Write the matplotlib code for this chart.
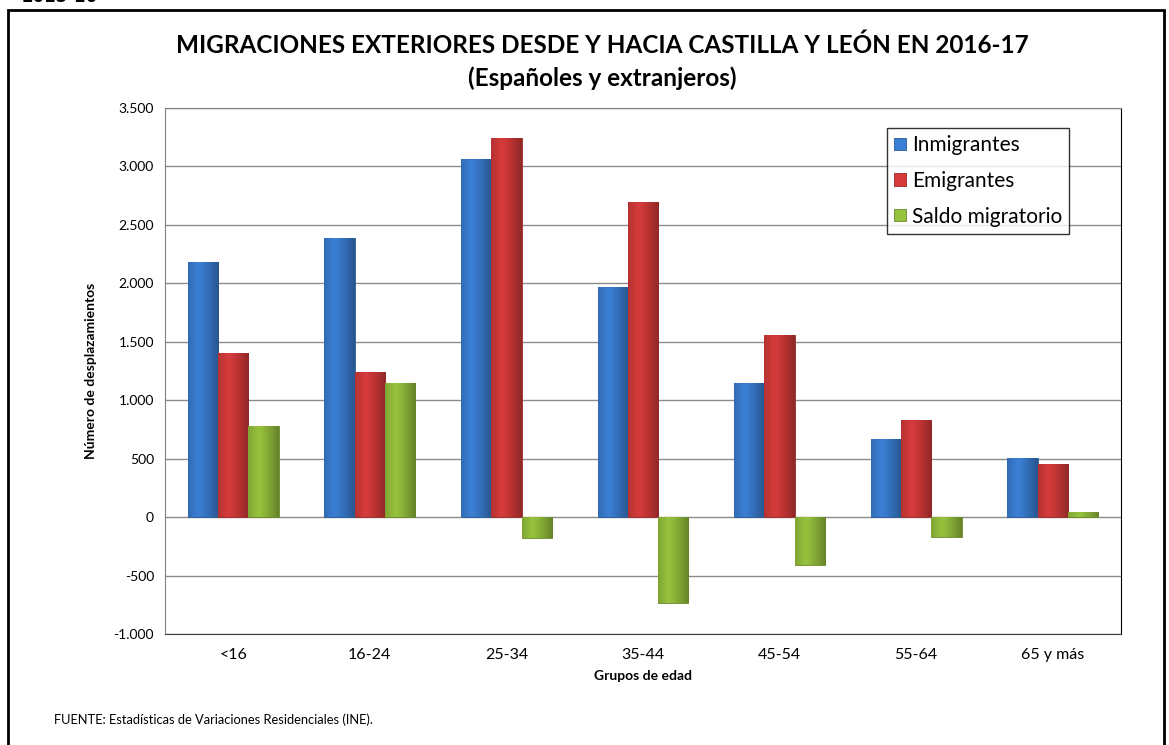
import matplotlib
matplotlib.use("Agg")
import matplotlib.pyplot as plt
import matplotlib.colors as mcolors
from matplotlib.patches import Rectangle
from matplotlib.ticker import FuncFormatter
import numpy as np

# data
grupos = ["<16", "16-24", "25-34", "35-44", "45-54", "55-64", "65 y más"]
inmigrantes = [2180, 2390, 3065, 1965, 1145, 668, 506]
emigrantes = [1400, 1243, 3240, 2700, 1557, 834, 458]
saldo = [780, 1147, -175, -735, -412, -166, 48]

series = ["Inmigrantes", "Emigrantes", "Saldo migratorio"]
colores = ["#3b7fd4", "#d63b3b", "#97c23d"]

plt.rcParams['font.family'] = ['Lato', 'DejaVu Sans']

fig = plt.figure(figsize=(11.69, 7.45), dpi=100)
ax = fig.add_axes([165/1169, 1-634/745, (1121-165)/1169, (634-108)/745])


def shade(bars, color):
    # fake the excel bevel look with a horizontal gradient clipped to each bar
    base = np.array(mcolors.to_rgb(color))
    t = np.linspace(0, 1, 64)
    prof = 1.0 - 0.25*np.abs(t - 0.35)**1.2 * 2.2
    prof = np.clip(prof, 0.6, 1.05)
    img = np.clip(base[None, None, :] * prof[None, :, None], 0, 1)
    for b in bars:
        x0, y0 = b.get_x(), b.get_y()
        w, h = b.get_width(), b.get_height()
        im = ax.imshow(img, extent=[x0, x0 + w, y0, y0 + h], aspect='auto',
                       zorder=3, interpolation='bilinear')
        im.set_clip_path(b)


x = np.arange(len(grupos))
w = 0.222
datos = [inmigrantes, emigrantes, saldo]
for i, (nombre, vals, col) in enumerate(zip(series, datos, colores)):
    barras = ax.bar(x + (i - 1)*w, vals, w, color=col, label=nombre, zorder=3,
                    edgecolor=np.array(mcolors.to_rgb(col))*0.7, linewidth=0.6)
    shade(barras, col)

ax.set_xlim(-0.5, 6.5)
ax.set_ylim(-1000, 3500)
ax.set_yticks(np.arange(-1000, 3501, 500))
ax.yaxis.set_major_formatter(FuncFormatter(lambda v, p: f"{int(v):,}".replace(",", ".")))
ax.set_xticks(x)
ax.set_xticklabels(grupos)
ax.tick_params(axis='y', length=0, labelsize=10, pad=8)
ax.tick_params(axis='x', length=0, labelsize=11.5, pad=10)
ax.grid(axis='y', color='#8c8c8c', linewidth=1, zorder=0)
ax.set_axisbelow(True)
for s in ax.spines.values():
    s.set_color('#808080')
ax.spines['right'].set_color('black')
ax.spines['bottom'].set_color('#404040')

ax.set_ylabel("Número de desplazamientos", fontsize=10, fontweight='bold', labelpad=12)
ax.set_xlabel("Grupos de edad", fontsize=10, fontweight='bold', labelpad=6)

leg = ax.legend(loc='upper right', bbox_to_anchor=(0.946, 0.962), fontsize=15,
                frameon=True, fancybox=False, handlelength=0.55, handleheight=0.55,
                handletextpad=0.3, labelspacing=0.75, borderpad=0.35,
                borderaxespad=0)
leg.get_frame().set_edgecolor('black')
leg.get_frame().set_linewidth(1)

fig.text(0.515, 1-45/745, "MIGRACIONES EXTERIORES DESDE Y HACIA CASTILLA Y LEÓN EN 2016-17",
         ha='center', va='center', fontsize=17.5, fontweight='bold')
fig.text(0.515, 1-78/745, "(Españoles y extranjeros)",
         ha='center', va='center', fontsize=17.5, fontweight='bold')
fig.text(54/1169, 1-720/745, "FUENTE: Estadísticas de Variaciones Residenciales (INE).",
         ha='left', va='center', fontsize=9.3)
# cut-off header text at the very top, as in the source
fig.text(22/1169, 1+3/745, "2015-16", ha='left', va='center', fontsize=12,
         fontweight='bold', family='DejaVu Sans')

# outer frame
fig.patches.append(Rectangle((8/1169, -0.05), (1164-8)/1169, 1.05 - 10/745,
                             transform=fig.transFigure, fill=False,
                             edgecolor='black', linewidth=2))

fig.savefig("out.png", dpi=100)
